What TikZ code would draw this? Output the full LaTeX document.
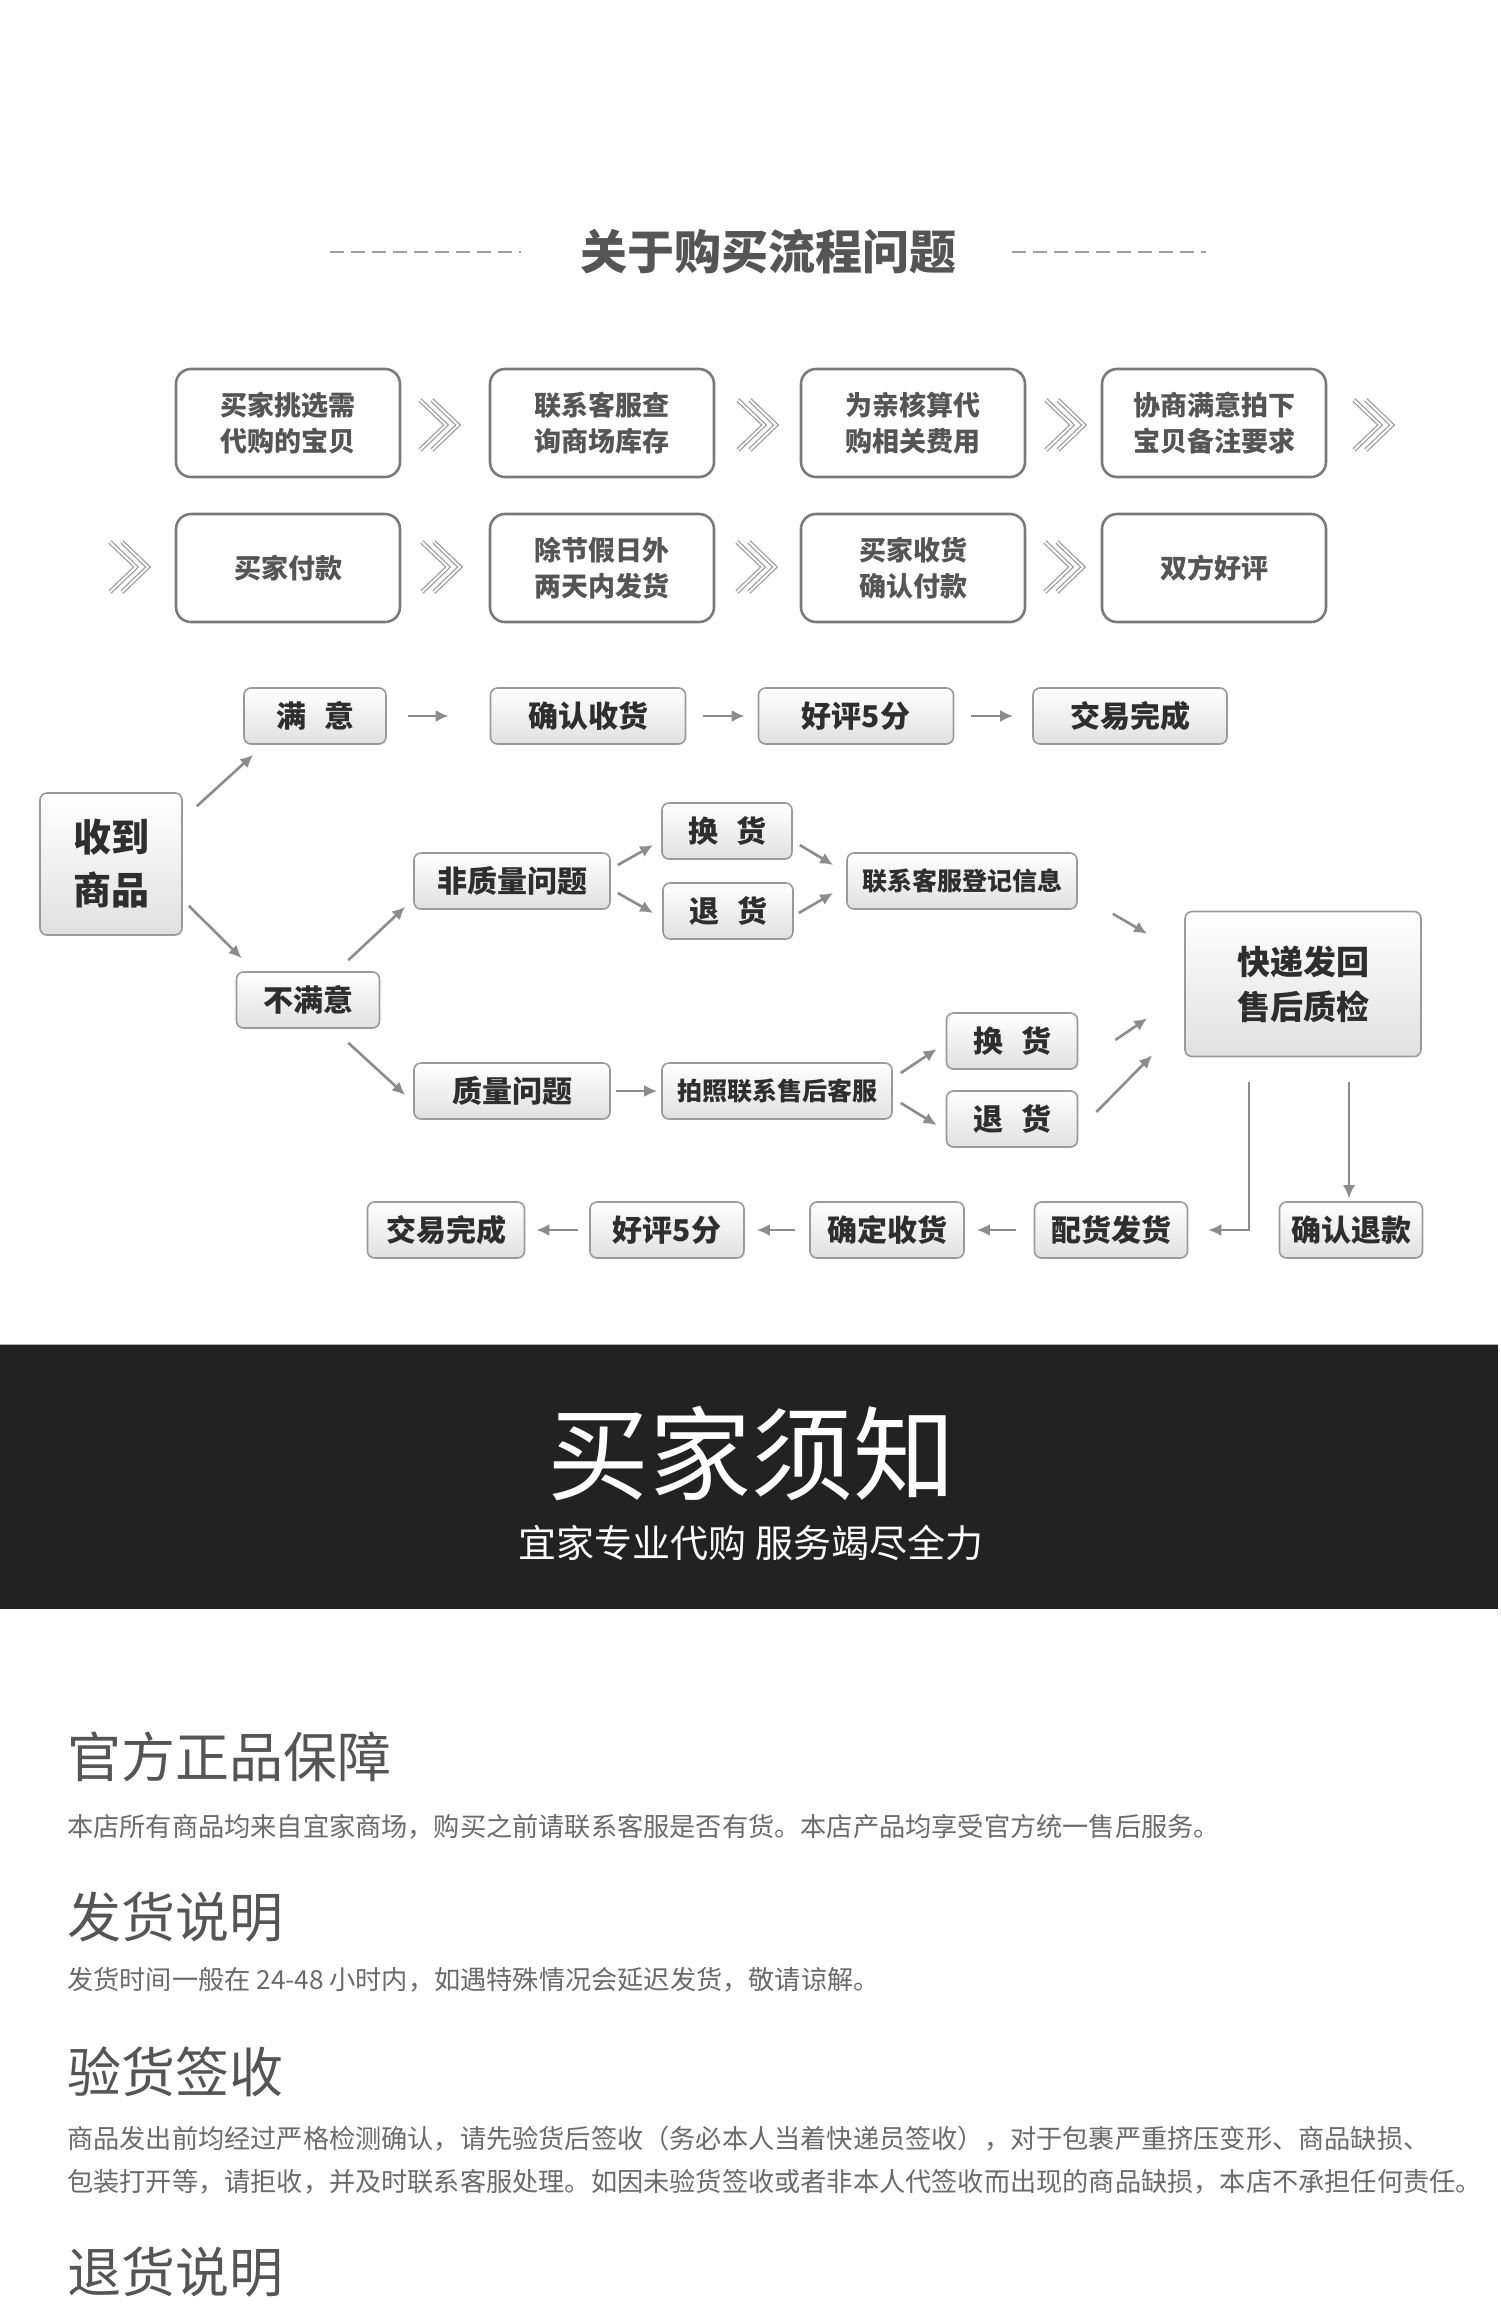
\documentclass[tikz,border=0pt]{standalone}
\usepackage{fontspec}
\setmainfont{Noto Sans CJK SC}
\usetikzlibrary{arrows.meta,calc}

\definecolor{boxline}{HTML}{7A7A7A}
\definecolor{flowline}{HTML}{9A9A9A}
\definecolor{textdark}{HTML}{2E2E2E}
\definecolor{textmid}{HTML}{555555}
\definecolor{textsoft}{HTML}{6A6A6A}
\definecolor{arrowgray}{HTML}{8C8C8C}
\definecolor{bandgray}{HTML}{222222}

\begin{document}
\begin{tikzpicture}[
  x=1pt, y=-1pt,
  stepbox/.style={
    rectangle, rounded corners=15pt,
    minimum width=224pt, minimum height=108pt,
    draw=boxline, line width=2.6pt, fill=white,
    text=textmid, align=center, inner sep=0pt,
    font={\fontsize{27}{36}\selectfont\bfseries}
  },
  flowbox/.style={
    rectangle, rounded corners=7pt,
    minimum height=56pt,
    draw=flowline, line width=1.6pt,
    top color=white, bottom color=gray!24,
    text=textdark, align=center, inner sep=0pt,
    font={\fontsize{30}{36}\selectfont\bfseries}
  },
  smallbox/.style={
    flowbox, font={\fontsize{25}{30}\selectfont\bfseries}
  },
  flow/.style={
    -{Latex[length=13pt,width=12pt]},
    line width=2.6pt, draw=arrowgray
  },
  chevline/.style={
    draw=gray!80, line width=1.2pt, double=white, double distance=2pt
  },
  chevrons/.pic={
    \foreach \dx in {-6,6}
      \draw[chevline] (\dx-13,-25) -- (\dx+13,0) -- (\dx-13,25);
  },
  heading/.style={
    anchor=west, inner sep=0pt, text=textmid,
    font={\fontsize{54}{60}\selectfont}
  },
  bodytext/.style={
    anchor=west, inner sep=0pt, text=textsoft,
    font={\fontsize{26.2}{30}\selectfont}
  }
]
\useasboundingbox (0,0) rectangle (1500,2322);
\fill[white] (0,0) rectangle (1500,2322);

% ==================== TITLE ====================

\node (title) [inner sep=0pt, text=textmid,
  font={\fontsize{47}{52}\selectfont\bfseries}] at (768,252) {关于购买流程问题};
\draw[gray!75, line width=2pt, dash pattern=on 14pt off 7pt]
  ($(title.west)+(-250,0)$) -- ($(title.west)+(-59,0)$);
\draw[gray!75, line width=2pt, dash pattern=on 14pt off 7pt]
  ($(title.east)+(56,0)$) -- ($(title.east)+(250,0)$);

% ==================== PURCHASE STEPS ====================

\node (p1) [stepbox] at (288,423) {买家挑选需\\代购的宝贝};
\node (p2) [stepbox] at (602,423) {联系客服查\\询商场库存};
\node (p3) [stepbox] at (913,423) {为亲核算代\\购相关费用};
\node (p4) [stepbox] at (1214,423) {协商满意拍下\\宝贝备注要求};

\node (p5) [stepbox] at (288,568) {买家付款};
\node (p6) [stepbox] at (602,568) {除节假日外\\两天内发货};
\node (p7) [stepbox] at (913,568) {买家收货\\确认付款};
\node (p8) [stepbox] at (1214,568) {双方好评};

\pic at (439,425) {chevrons};
\pic at (757,425) {chevrons};
\pic at (1065,425) {chevrons};
\pic at (1373,425) {chevrons};
\pic at (129,567) {chevrons};
\pic at (441,567) {chevrons};
\pic at (756,567) {chevrons};
\pic at (1064,567) {chevrons};

% ==================== AFTER DELIVERY ====================

\node (recv) [flowbox, minimum width=142pt, minimum height=142pt,
  font={\fontsize{38}{53}\selectfont\bfseries}] at (111,864) {收到\\商品};

% satisfied branch
\node (sat) [flowbox, minimum width=142pt] at (315,716) {满\hspace{18pt}意};
\node (conf) [flowbox, minimum width=195pt] at (588,716) {确认收货};
\node (good) [flowbox, minimum width=195pt] at (856,716) {好评5分};
\node (done) [flowbox, minimum width=194pt] at (1130,716) {交易完成};

% not satisfied branch
\node (unsat) [flowbox, minimum width=143pt] at (308,1000) {不满意};
\node (nonq) [flowbox, minimum width=196pt] at (512,881) {非质量问题};
\node (swap1) [flowbox, minimum width=130pt] at (727,831) {换\hspace{18pt}货};
\node (ret1) [flowbox, minimum width=130pt] at (728,911) {退\hspace{18pt}货};
\node (reg) [smallbox, minimum width=230pt] at (962,881) {联系客服登记信息};

\node (qual) [flowbox, minimum width=196pt] at (512,1091) {质量问题};
\node (photo) [smallbox, minimum width=230pt] at (777,1091) {拍照联系售后客服};
\node (swap2) [flowbox, minimum width=131pt] at (1012,1041) {换\hspace{18pt}货};
\node (ret2) [flowbox, minimum width=131pt] at (1012,1119) {退\hspace{18pt}货};

\node (exp) [flowbox, minimum width=236pt, minimum height=145pt,
  font={\fontsize{33}{45}\selectfont\bfseries}] at (1303,984) {快递发回\\售后质检};

% return path
\node (refund) [flowbox, minimum width=143pt] at (1351,1230) {确认退款};
\node (ship) [flowbox, minimum width=153pt] at (1111,1230) {配货发货};
\node (conf2) [flowbox, minimum width=154pt] at (887,1230) {确定收货};
\node (good2) [flowbox, minimum width=154pt] at (667,1230) {好评5分};
\node (done2) [flowbox, minimum width=157pt] at (446,1230) {交易完成};

% ==================== CONNECTORS ====================

\draw[flow] ($(recv.north east)+(14,14)$) -- ($(sat.south west)+(10,10)$);
\draw[flow] ($(recv.south east)+(6,-30)$) -- ($(unsat.north west)+(6,-13)$);

\draw[flow, shorten <=21pt, shorten >=41pt] (sat) -- (conf);
\draw[flow, shorten <=17pt, shorten >=13pt] (conf) -- (good);
\draw[flow, shorten <=17pt, shorten >=19pt] (good) -- (done);

\draw[flow] ($(unsat.north east)+(-32,-11)$) -- ($(nonq.south west)+(-8,-3)$);
\draw[flow] ($(unsat.south east)+(-32,14)$) -- ($(qual.west)+(-8,4)$);

\draw[flow] ($(nonq.east)+(7,-16)$) -- ($(swap1.west)+(-8,14)$);
\draw[flow] ($(nonq.east)+(7,12)$) -- ($(ret1.west)+(-9,2)$);
\draw[flow] ($(swap1.east)+(7,14)$) -- ($(reg.west)+(-13,-16)$);
\draw[flow] ($(ret1.east)+(5,2)$) -- ($(reg.west)+(-13,12)$);
\draw[flow] ($(reg.south east)+(35,4)$) -- ($(exp.north west)+(-37,23)$);

\draw[flow, shorten <=5pt, shorten >=4pt] (qual) -- (photo);
\draw[flow] ($(photo.east)+(8,-18)$) -- ($(swap2.west)+(-9,8)$);
\draw[flow] ($(photo.east)+(8,12)$) -- ($(ret2.west)+(-9,6)$);
\draw[flow] ($(swap2.east)+(37,-1)$) -- ($(exp.south west)+(-37,-39)$);
\draw[flow] ($(ret2.east)+(18,-7)$) -- ($(exp.south west)+(-32,-2)$);

% lines down from the quality check
\coordinate (dropL) at ($(exp.south)+(-54,25)$);
\coordinate (dropR) at ($(exp.south)+(46,25)$);
\draw[flow, line width=2pt] (dropL) |- ($(ship.east)+(20,0)$);
\draw[flow, line width=2pt, shorten >=3pt] (dropR) -- (dropR |- refund.north);

\draw[flow, shorten <=18pt, shorten >=12pt] (ship) -- (conf2);
\draw[flow, shorten <=14pt, shorten >=12pt] (conf2) -- (good2);
\draw[flow, shorten <=11pt, shorten >=11pt] (good2) -- (done2);

% ==================== NOTICE BAND ====================

\fill[bandgray] (0,1344) rectangle (1498,1609);
\draw[gray!60, line width=1pt] (0,1344) -- (1498,1344);
\node (notice) [inner sep=0pt, text=white,
  font={\fontsize{102}{110}\selectfont}] at (751,1453) {买家须知};
\node (slogan) [inner sep=0pt, text=white,
  font={\fontsize{38}{44}\selectfont}] at (751,1543) {宜家专业代购 服务竭尽全力};

% ==================== NOTES ====================

\node (h1) [heading] at (67,1757) {官方正品保障};
\node (t1) [bodytext] at (67,1827) {本店所有商品均来自宜家商场，购买之前请联系客服是否有货。本店产品均享受官方统一售后服务。};

\node (h2) [heading] at (67,1917) {发货说明};
\node (t2) [bodytext] at (67,1980) {发货时间一般在 24-48 小时内，如遇特殊情况会延迟发货，敬请谅解。};

\node (h3) [heading] at (67,2072) {验货签收};
\node (t3) [bodytext] at (67,2139) {商品发出前均经过严格检测确认，请先验货后签收（务必本人当着快递员签收），对于包裹严重挤压变形、商品缺损、};
\node (t4) [bodytext] at (67,2182) {包装打开等，请拒收，并及时联系客服处理。如因未验货签收或者非本人代签收而出现的商品缺损，本店不承担任何责任。};

\node (h4) [heading] at (67,2272) {退货说明};

\end{tikzpicture}
\end{document}
